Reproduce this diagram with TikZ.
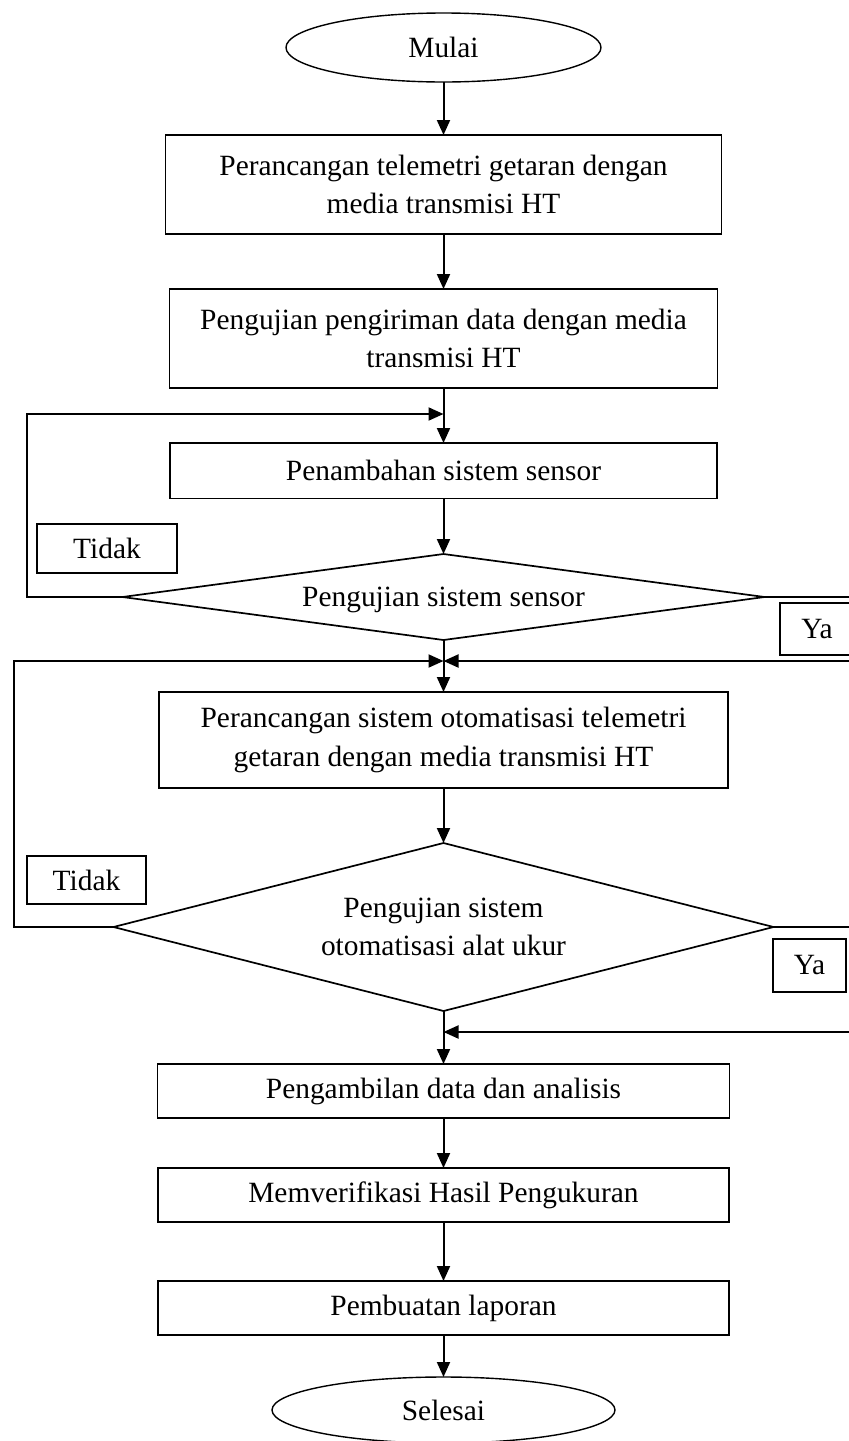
\documentclass[tikz,border=0pt]{standalone}
\usepackage{fontspec}
\setmainfont{Liberation Serif}
\usetikzlibrary{shapes.geometric, arrows.meta, positioning}

\begin{document}
\begin{tikzpicture}[
  x=0.5pt, y=-0.5pt,
  every node/.style={font=\fontsize{14.7}{19.25}\selectfont},
  term/.style={ellipse, draw, line width=0.7pt, minimum width=157.5pt,
               minimum height=34.5pt, inner sep=0pt, outer sep=0pt},
  proc/.style={rectangle, draw, line width=0.75pt, align=center,
               inner sep=0pt, outer sep=0pt},
  dec/.style={diamond, draw, line width=0.85pt, align=center,
              inner sep=0pt, outer sep=0pt},
  lbl/.style={rectangle, draw, line width=0.75pt, inner sep=0pt, outer sep=0pt},
  arr/.style={line width=1pt, -{Triangle[length=7.5pt, width=6.5pt]}},
]
  \useasboundingbox (0,0) rectangle (848,1441);

  \node[term] (mulai) at (443.5,47.5) {Mulai};
  \node[proc, minimum width=278pt, minimum height=49.5pt] (rancang) at (443.5,184.5)
    {Perancangan telemetri getaran dengan\\media transmisi HT};
  \node[proc, minimum width=274pt, minimum height=49.5pt] (kirim) at (443.5,338.5)
    {Pengujian pengiriman data dengan media\\transmisi HT};
  \node[proc, minimum width=273.5pt, minimum height=27.75pt] (sensor) at (443.5,470.75)
    {Penambahan sistem sensor};
  \node[dec, minimum width=321pt, minimum height=43pt, shape aspect=7.5, text depth=0pt]
    (ujisensor) at (443.5,597) {Pengujian sistem sensor};
  \node[proc, minimum width=284.5pt, minimum height=48pt] (otomasi) at (443.5,740)
    {Perancangan sistem otomatisasi telemetri\\getaran dengan media transmisi HT};
  \node[dec, minimum width=330pt, minimum height=84pt, shape aspect=3.9] (ujiotomasi) at (443.5,927)
    {Pengujian sistem\\otomatisasi alat ukur};
  \node[proc, minimum width=286pt, minimum height=27pt] (ambil) at (443.5,1091)
    {Pengambilan data dan analisis};
  \node[proc, minimum width=285.5pt, minimum height=27pt] (verif) at (443.5,1195)
    {Memverifikasi Hasil Pengukuran};
  \node[proc, minimum width=285.5pt, minimum height=27pt] (lapor) at (443.5,1308)
    {Pembuatan laporan};
  \node[term, minimum width=171.5pt, minimum height=33pt] (selesai) at (443.5,1410) {Selesai};

  \node[lbl, minimum width=70pt, minimum height=24.5pt] (tidaka) at (107,548.5) {Tidak};
  \node[lbl, minimum width=37pt, minimum height=26pt] (yaa) at (817,629) {Ya};
  \node[lbl, minimum width=59.5pt, minimum height=24pt] (tidakb) at (86.5,880) {Tidak};
  \node[lbl, minimum width=36.5pt, minimum height=26.5pt] (yab) at (809.5,965.5) {Ya};

  \coordinate (mrga) at (443.5,414);
  \coordinate (mrgb) at (443.5,661);
  \coordinate (mrgc) at (443.5,1032);

  \draw[arr] (mulai) -- (rancang);
  \draw[arr] (rancang) -- (kirim);
  \draw[arr] (kirim) -- (sensor);
  \draw[arr] (sensor) -- (ujisensor);
  \draw[arr] (ujisensor) -- (otomasi);
  \draw[arr] (otomasi) -- (ujiotomasi);
  \draw[arr] (ujiotomasi) -- (ambil);
  \draw[arr] (ambil) -- (verif);
  \draw[arr] (verif) -- (lapor);
  \draw[arr] (lapor) -- (selesai);

  \draw[arr] (ujisensor.west) -- ++(-96,0) |- (mrga);
  \draw[arr] (ujisensor.east) -- ++(91,0) |- (mrgb);
  \draw[arr] (ujiotomasi.west) -- ++(-100,0) |- (mrgb);
  \draw[arr] (ujiotomasi.east) -- ++(83,0) |- (mrgc);
\end{tikzpicture}
\end{document}
